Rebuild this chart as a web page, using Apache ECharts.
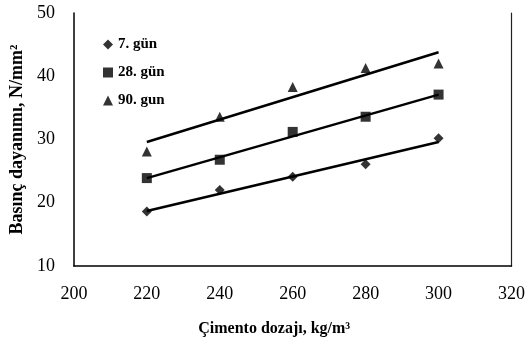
<!DOCTYPE html>
<html><head><meta charset="utf-8">
<script src="https://cdn.jsdelivr.net/npm/echarts@6/dist/echarts.min.js"></script>
<style>html,body{margin:0;padding:0;background:#fff}#c{width:528px;height:347px}</style>
</head><body><div id="c"></div>
<script>
const dosage = [220, 240, 260, 280, 300];
const gun7 = [18.6, 22.0, 24.1, 26.1, 30.2];
const gun28 = [23.9, 26.8, 31.2, 33.6, 37.1];
const gun90 = [28.1, 33.6, 38.3, 41.3, 42.0];
const trendX = [220, 300];
const trend7 = [18.7, 29.6];
const trend28 = [23.9, 37.1];
const trend90 = [29.6, 43.8];
const seriesNames = ['7. gün', '28. gün', '90. gun'];
const xTitle = 'Çimento dozajı, kg/m³';
const yTitle = 'Basınç dayanımı, N/mm²';

const font = '"Liberation Serif", "DejaVu Serif", serif';
const pts = (xs, ys) => xs.map((x, i) => [x, ys[i]]);
const scatter = (name, sym, size, ys) => ({
  name, type: 'scatter', symbol: sym, symbolSize: size,
  itemStyle: { color: '#000' }, data: pts(dosage, ys), z: 3
});
const trend = ys => ({
  type: 'line', data: pts(trendX, ys), symbol: 'none',
  lineStyle: { color: '#000', width: 2.5 }, silent: true, z: 2
});
const chart = echarts.init(document.getElementById('c'));
chart.setOption({
  animation: false,
  grid: { left: 73, right: 12, top: 13, bottom: 81 },
  legend: {
    left: 98, top: 32, orient: 'vertical', itemGap: 13, itemWidth: 10, itemHeight: 10,
    textStyle: { fontFamily: font, fontWeight: 'bold', fontSize: 15, color: '#000' },
    data: [
      { name: seriesNames[0], icon: 'diamond' },
      { name: seriesNames[1], icon: 'rect' },
      { name: seriesNames[2], icon: 'triangle' }
    ]
  },
  xAxis: {
    type: 'value', min: 200, max: 320, interval: 20,
    name: xTitle, nameLocation: 'middle', nameGap: 55,
    nameTextStyle: { fontFamily: font, fontWeight: 'bold', fontSize: 16, color: '#000', padding: [0, 37, 0, 0] },
    axisLine: { lineStyle: { color: '#000', width: 1.5 } },
    axisTick: { show: false },
    splitLine: { show: false },
    axisLabel: { fontFamily: font, fontSize: 18, color: '#000', margin: 19 }
  },
  yAxis: [{
    type: 'value', min: 10, max: 50, interval: 10,
    name: yTitle, nameLocation: 'middle', nameGap: 45, nameRotate: 90,
    nameTextStyle: { fontFamily: font, fontWeight: 'bold', fontSize: 18, color: '#000' },
    axisLine: { show: true, lineStyle: { color: '#000', width: 1.5 } },
    axisTick: { show: false },
    splitLine: { show: false },
    axisLabel: { fontFamily: font, fontSize: 18, color: '#000', margin: 19 }
  }, {
    type: 'value', min: 10, max: 50, interval: 10, position: 'right',
    axisLine: { show: true, lineStyle: { color: '#222', width: 1.2 } },
    axisTick: { show: false }, axisLabel: { show: false }, splitLine: { show: false }
  }],
  series: [
    trend(trend7), trend(trend28), trend(trend90),
    scatter(seriesNames[0], 'diamond', 10, gun7),
    scatter(seriesNames[1], 'rect', 10, gun28),
    scatter(seriesNames[2], 'triangle', 10, gun90)
  ]
});
</script></body></html>
